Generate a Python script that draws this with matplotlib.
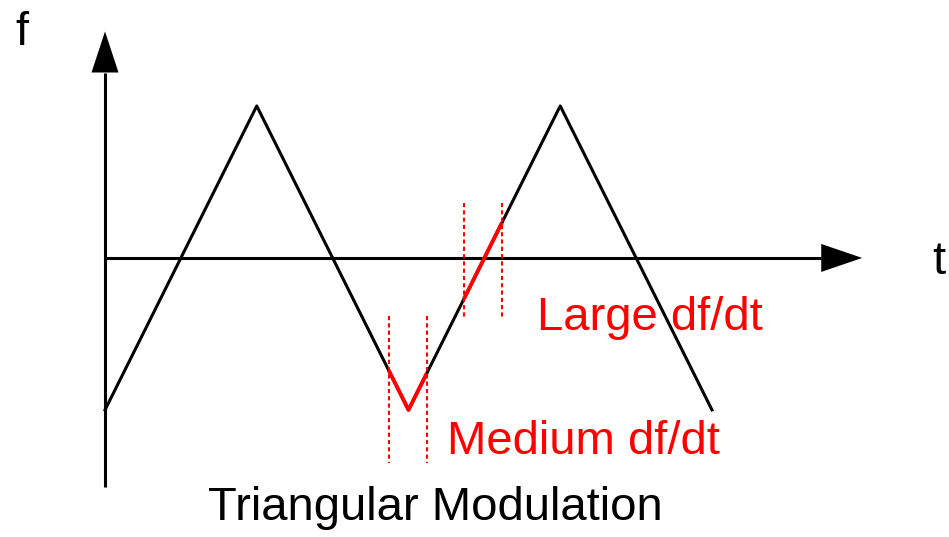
import matplotlib
matplotlib.use("Agg")
import matplotlib.pyplot as plt
import numpy as np

# Triangular modulation vertices (time in half-periods, normalised frequency)
t_vertices = [0, 1, 2, 3, 4]
f_vertices = [-1, 1, -1, 1, -1]

# Observation windows
medium_window = [1.87, 2.12]
large_window = [2.366, 2.616]

labels = {"f": "f", "t": "t", "large": "Large df/dt",
          "medium": "Medium df/dt", "title": "Triangular Modulation"}

plt.rcParams['font.family'] = ['Liberation Sans', 'DejaVu Sans']

fig = plt.figure(figsize=(9.49, 5.37), dpi=100)
ax = fig.add_axes([0, 0, 1, 1])
ax.set_xlim(-0.692, 5.562)
ax.set_ylim(-1.836, 1.697)
ax.axis('off')

def tri(t):
    return np.interp(t, t_vertices, f_vertices)

# axes
xsc = 151.75  # px per t unit
ysc = 152.0   # px per f unit
ax.plot([0, 4.72], [0, 0], color='black', lw=2.2, solid_capstyle='butt')
ax.fill([4.72, 4.99, 4.72], [14 / ysc, 0, -14 / ysc], color='black', lw=0)
ax.plot([0, 0], [-1.51, 1.22], color='black', lw=2.2, solid_capstyle='butt')
ax.fill([-13.5 / xsc, 0, 13.5 / xsc], [1.22, 1.49, 1.22], color='black', lw=0)

# triangular wave
ax.plot(t_vertices, f_vertices, color='black', lw=2.2)

# highlighted segments
for w in (medium_window, large_window):
    ts = [w[0]] + [v for v in t_vertices if w[0] < v < w[1]] + [w[1]]
    ax.plot(ts, tri(np.array(ts)), color='red', lw=2.8, solid_capstyle='butt')

# dotted window bounds
for x in medium_window:
    ax.plot([x, x], [-0.38, -1.35], color='red', lw=1.5, linestyle=(0, (2, 1.5)))
for x in large_window:
    ax.plot([x, x], [0.36, -0.39], color='red', lw=1.5, linestyle=(0, (2, 1.5)))

# text
ax.text(-0.593, 1.401, labels["f"], fontsize=34, color='black', va='baseline', ha='left')
ax.text(5.45, -0.105, labels["t"], fontsize=34, color='black', va='baseline', ha='left')
ax.text(2.847, -0.474, labels["large"], fontsize=34, color='red', va='baseline', ha='left')
ax.text(2.254, -1.289, labels["medium"], fontsize=34, color='red', va='baseline', ha='left')
ax.text(2.175, -1.724, labels["title"], fontsize=34, color='black', va='baseline', ha='center')

fig.savefig("out.png", dpi=100)
